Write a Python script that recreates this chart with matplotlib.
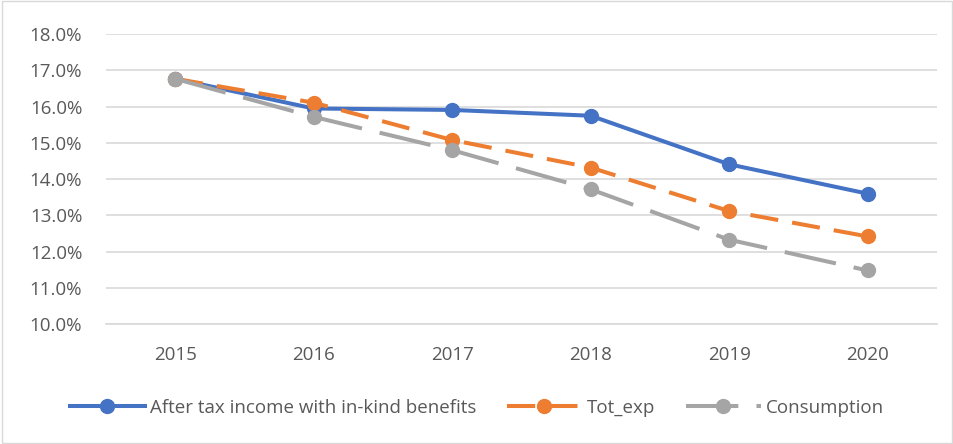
import matplotlib.pyplot as plt
from matplotlib.ticker import PercentFormatter

years = ["2015", "2016", "2017", "2018", "2019", "2020"]
after_tax = [16.77, 15.95, 15.91, 15.75, 14.41, 13.60]
tot_exp = [16.77, 16.11, 15.08, 14.32, 13.12, 12.42]
consumption = [16.77, 15.72, 14.80, 13.72, 12.33, 11.48]

plt.rcParams['font.family'] = ['Open Sans', 'DejaVu Sans']

fig = plt.figure(figsize=(9.54, 4.44), dpi=100, facecolor='w')
ax = fig.add_axes([0.111, 0.270, 0.871, 0.653])

x = range(len(years))
lw = 2.9
ax.plot(x, after_tax, color='#4472C4', linewidth=lw, marker='o', markersize=10,
        label='After tax income with in-kind benefits', zorder=3)
ax.plot(x, tot_exp, color='#ED7D31', linewidth=lw, marker='o', markersize=10,
        dashes=(7, 3.5), label='Tot_exp', zorder=4)
ax.plot(x, consumption, color='#A5A5A5', linewidth=lw, marker='o', markersize=10,
        dashes=(13, 4.5), label='Consumption', zorder=5)

ax.set_xlim(-0.5, len(years) - 0.5)
ax.set_ylim(10, 18)
ax.set_yticks([10, 11, 12, 13, 14, 15, 16, 17, 18])
ax.yaxis.set_major_formatter(PercentFormatter(decimals=1))
ax.set_xticks(list(x))
ax.set_xticklabels(years)

ax.grid(axis='y', color='#D9D9D9', linewidth=1.2)
ax.set_axisbelow(True)
for s in ['left', 'right', 'top']:
    ax.spines[s].set_visible(False)
ax.spines['bottom'].set_color('#D9D9D9')
ax.spines['bottom'].set_linewidth(1.2)
ax.tick_params(axis='both', length=0, labelsize=13.5, colors='#595959')
ax.tick_params(axis='y', pad=17)
ax.tick_params(axis='x', pad=16)

fig.legend(loc='center', bbox_to_anchor=(0.5, 0.081), ncol=3, frameon=False,
           fontsize=13.5, labelcolor='#595959', handlelength=4.0, columnspacing=1.6,
           handletextpad=0.3)

border = plt.Rectangle((0.002, 0.003), 0.996, 0.994, transform=fig.transFigure,
                       fill=False, edgecolor='#D9D9D9', linewidth=1)
fig.patches.append(border)

plt.savefig('out.png', dpi=100)
